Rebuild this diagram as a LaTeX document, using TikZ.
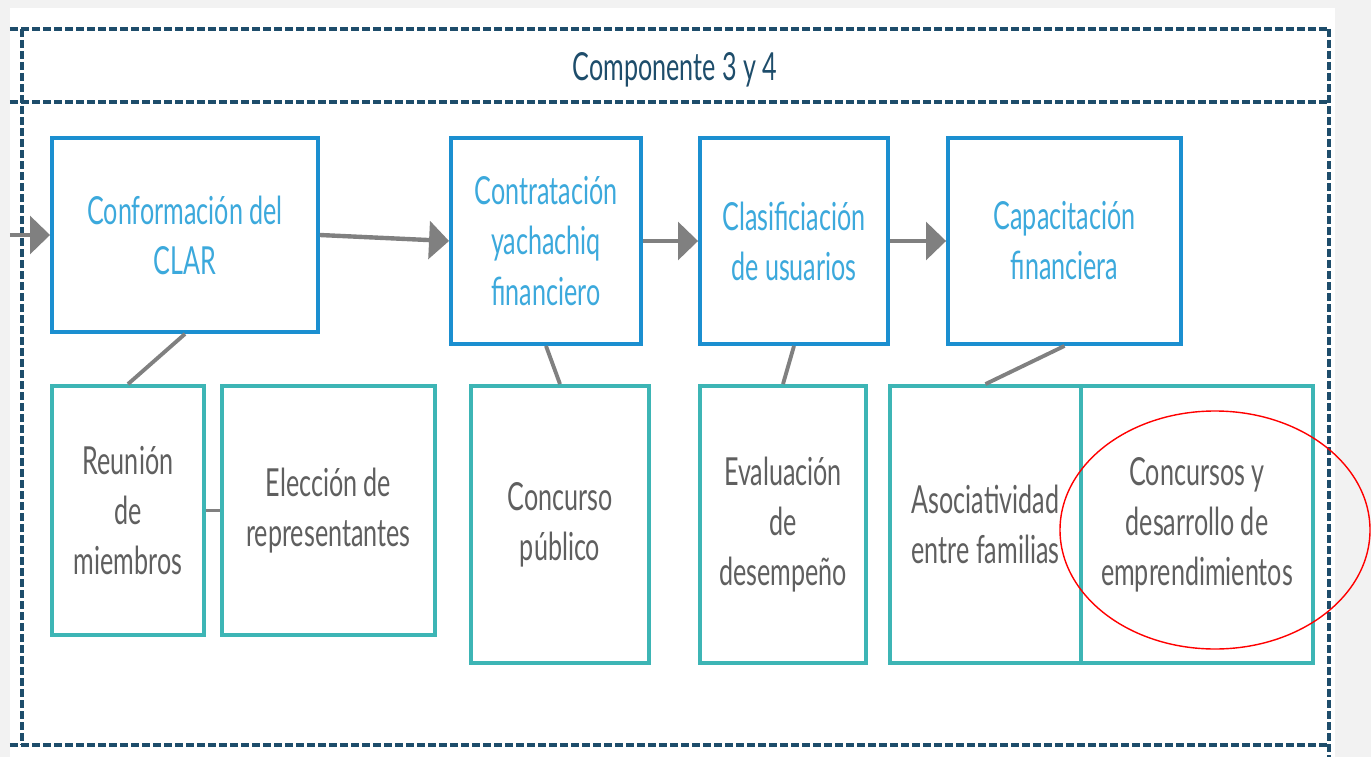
\documentclass[tikz,border=0pt]{standalone}
\usepackage{fontspec}
\setmainfont{Lato}[FakeStretch=0.65]
\usetikzlibrary{arrows.meta}
\definecolor{framecol}{HTML}{1E4D6B}
\definecolor{stagecol}{HTML}{1B8FD0}
\definecolor{stagetext}{HTML}{3CA9DC}
\definecolor{taskcol}{HTML}{3DB5B5}
\definecolor{tasktext}{HTML}{5F5F5F}
\definecolor{linkcol}{HTML}{808080}
\definecolor{pagecol}{HTML}{F2F2F2}

\begin{document}
\begin{tikzpicture}[stage/.style={rectangle,draw=stagecol,line width=2.2pt,text=stagetext,align=center,font=\fontsize{22}{28.5}\selectfont,inner sep=0pt},
task/.style={rectangle,draw=taskcol,line width=2.2pt,text=tasktext,align=center,font=\fontsize{22}{28.5}\selectfont,inner sep=0pt},
flow/.style={draw=linkcol,line width=2.5pt,-{Triangle[length=0.4cm,width=0.75cm]}},
link/.style={draw=linkcol,line width=2.2pt},
frame/.style={draw=framecol,line width=2.2pt,dash pattern=on 0.16cm off 0.06cm}]
\useasboundingbox (0,0) rectangle (27.42,15.14);
\fill[pagecol] (0,0) rectangle (27.42,15.14);
\fill[white] (0.2,0) rectangle (26.7,14.98);

\draw[frame] (0.2,14.56) -- (26.58,14.56);
\draw[frame] (0.2,13.1) -- (26.58,13.1);
\draw[frame] (0.2,0.24) -- (26.58,0.24);
\draw[frame] (0.44,14.56) -- (0.44,0.24);
\draw[frame] (26.58,14.56) -- (26.58,0);
\node[text=framecol,font=\fontsize{22}{28.5}\selectfont] at (13.5,13.74) (title) {Componente 3 y 4};

\node[stage,minimum width=5.32cm,minimum height=3.88cm] at (3.7,10.44) (0) {Conformación del\\CLAR};
\node[stage,minimum width=3.8cm,minimum height=4.12cm] at (10.92,10.32) (1) {Contratación\\yachachiq\\financiero};
\node[stage,minimum width=3.76cm,minimum height=4.12cm] at (15.88,10.32) (2) {Clasificiación\\de usuarios};
\node[stage,minimum width=4.66cm,minimum height=4.12cm] at (21.29,10.32) (3) {Capacitación\\financiera};

\node[task,minimum width=3.04cm,minimum height=4.98cm] at (2.56,4.93) (4) {Reunión\\de\\miembros};
\node[task,minimum width=4.26cm,minimum height=4.98cm] at (6.57,4.93) (5) {Elección de\\representantes};
\node[task,minimum width=3.56cm,minimum height=5.54cm] at (11.2,4.65) (6) {Concurso\\público};
\node[task,minimum width=3.32cm,minimum height=5.54cm] at (15.66,4.65) (7) {Evaluación\\de\\desempeño};
\node[task,minimum width=3.82cm,minimum height=5.54cm] at (19.71,4.65) (8) {Asociatividad\\entre familias};
\node[task,minimum width=4.64cm,minimum height=5.54cm] at (23.94,4.65) (9) {Concursos y\\desarrollo de\\emprendimientos};

\coordinate (in) at (0.2,10.44);
\draw[flow] (in) -- (0.west);
\draw[flow] (0.east) -- (1.west);
\draw[flow] (1.east) -- (2.west);
\draw[flow] (2.east) -- (3.west);

\draw[link] (0.south) -- (4.north);
\draw[link] (4.east) -- (5.west);
\draw[link] (1.south) -- (6.north);
\draw[link] (2.south) -- (7.north);
\draw[link] (3.south) -- (8.north);

\draw[red,line width=0.8pt] (24.3,4.54) ellipse (3.1cm and 2.38cm);
\end{tikzpicture}
\end{document}
